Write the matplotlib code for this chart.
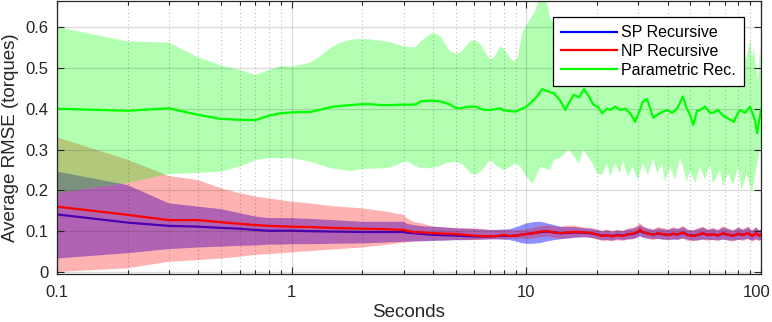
import numpy as np
import matplotlib
matplotlib.use("Agg")
import matplotlib.pyplot as plt
import matplotlib.transforms as mtransforms
from matplotlib.ticker import FixedLocator, LogLocator, NullFormatter

plt.rcParams['font.family'] = ['Liberation Sans', 'DejaVu Sans']

# ---------------- data ----------------
# common time grid for the two recursive methods (seconds)
t_rec = [0.1, 0.2, 0.3, 0.4, 0.5, 0.6, 0.7, 0.8, 0.9, 1.0, 1.2, 1.5, 2.0, 2.5, 3.0,
         3.1, 3.3, 3.6, 4.0, 4.5, 5.0, 5.5, 6.0, 6.5, 7.0, 7.5, 8.0, 8.5, 9.0, 9.5,
         10.0, 10.7, 11.5, 12.3, 13.1, 13.95, 15.0, 16.2, 17.6, 18.7, 20.0, 21.0, 22.1,
         23.3, 24.4, 25.8, 27.0, 28.4, 29.8, 30.5, 31.4, 33.0, 34.7, 36.4, 38.3, 40.2,
         42.2, 44.3, 46.5, 48.8, 51.4, 53.9, 56.6, 59.4, 62.4, 65.6, 68.9, 72.4, 76.1,
         79.9, 83.9, 88.1, 91.6, 95.3, 98.1, 100.0]

sp_mean = [0.141, 0.121, 0.113, 0.111, 0.108, 0.106, 0.103, 0.101, 0.101, 0.101, 0.100, 0.099,
           0.098, 0.098, 0.098, 0.096, 0.095, 0.093, 0.091, 0.090, 0.089, 0.088, 0.087, 0.087,
           0.087, 0.088, 0.089, 0.088, 0.089, 0.091,
           0.093, 0.095, 0.098, 0.099, 0.097, 0.095, 0.096, 0.097, 0.096, 0.095, 0.092, 0.089,
           0.090, 0.088, 0.091, 0.089, 0.092, 0.093, 0.097, 0.101, 0.097, 0.094, 0.092, 0.094,
           0.092, 0.091, 0.093, 0.092, 0.096, 0.091, 0.089, 0.091, 0.094, 0.091, 0.092, 0.090,
           0.094, 0.091, 0.089, 0.093, 0.091, 0.095, 0.089, 0.094, 0.090, 0.091]
sp_hi = [0.246, 0.213, 0.168, 0.160, 0.154, 0.144, 0.136, 0.132, 0.132, 0.132, 0.130, 0.127,
         0.123, 0.123, 0.123, 0.118, 0.115, 0.112, 0.111, 0.109, 0.107, 0.106, 0.105, 0.104,
         0.103, 0.103, 0.104, 0.105, 0.109, 0.114,
         0.119, 0.122, 0.123, 0.119, 0.115, 0.111, 0.110, 0.110, 0.107, 0.106, 0.103, 0.100,
         0.102, 0.099, 0.102, 0.100, 0.104, 0.106, 0.110, 0.115, 0.110, 0.106, 0.103, 0.107,
         0.105, 0.103, 0.107, 0.105, 0.110, 0.103, 0.101, 0.105, 0.109, 0.103, 0.106, 0.102,
         0.109, 0.105, 0.101, 0.108, 0.103, 0.109, 0.101, 0.108, 0.102, 0.104]
sp_lo = [0.033, 0.046, 0.056, 0.060, 0.062, 0.064, 0.065, 0.067, 0.067, 0.068, 0.068, 0.069,
         0.070, 0.072, 0.074, 0.074, 0.075, 0.075, 0.076, 0.077, 0.078, 0.078, 0.079, 0.079,
         0.080, 0.080, 0.079, 0.078, 0.075, 0.071,
         0.069, 0.069, 0.071, 0.075, 0.078, 0.080, 0.082, 0.084, 0.085, 0.084, 0.081, 0.078,
         0.078, 0.077, 0.080, 0.078, 0.080, 0.080, 0.084, 0.087, 0.084, 0.082, 0.081, 0.081,
         0.079, 0.079, 0.079, 0.079, 0.082, 0.079, 0.077, 0.077, 0.079, 0.079, 0.078, 0.078,
         0.079, 0.077, 0.077, 0.078, 0.079, 0.081, 0.077, 0.080, 0.078, 0.078]

np_mean = [0.160, 0.140, 0.127, 0.127, 0.122, 0.118, 0.115, 0.113, 0.112, 0.111, 0.110, 0.108,
           0.106, 0.105, 0.103, 0.101, 0.098, 0.097, 0.095, 0.094, 0.093, 0.091, 0.089, 0.088,
           0.087, 0.088, 0.091, 0.088, 0.089, 0.091,
           0.093, 0.095, 0.099, 0.100, 0.097, 0.095, 0.097, 0.098, 0.097, 0.096, 0.092, 0.088,
           0.090, 0.087, 0.090, 0.088, 0.092, 0.094, 0.098, 0.104, 0.098, 0.094, 0.091, 0.095,
           0.093, 0.090, 0.094, 0.092, 0.097, 0.090, 0.088, 0.092, 0.095, 0.090, 0.093, 0.089,
           0.095, 0.092, 0.088, 0.094, 0.090, 0.096, 0.088, 0.095, 0.089, 0.092]
np_hi = [0.330, 0.275, 0.235, 0.225, 0.205, 0.193, 0.185, 0.180, 0.176, 0.172, 0.168, 0.161,
         0.156, 0.148, 0.140, 0.132, 0.123, 0.119, 0.111, 0.109, 0.107, 0.107, 0.107, 0.105,
         0.103, 0.103, 0.103, 0.102, 0.102, 0.103,
         0.105, 0.108, 0.112, 0.114, 0.112, 0.110, 0.114, 0.113, 0.109, 0.108, 0.105, 0.101,
         0.104, 0.100, 0.103, 0.101, 0.106, 0.108, 0.114, 0.120, 0.113, 0.107, 0.104, 0.110,
         0.107, 0.104, 0.110, 0.106, 0.113, 0.104, 0.102, 0.107, 0.111, 0.104, 0.108, 0.103,
         0.112, 0.107, 0.102, 0.110, 0.104, 0.112, 0.102, 0.110, 0.103, 0.105]
np_lo = [0.000, 0.009, 0.025, 0.029, 0.033, 0.037, 0.042, 0.044, 0.046, 0.048, 0.051, 0.055,
         0.060, 0.066, 0.072, 0.073, 0.074, 0.076, 0.077, 0.077, 0.078, 0.078, 0.078, 0.079,
         0.080, 0.080, 0.080, 0.081, 0.081, 0.082,
         0.081, 0.082, 0.085, 0.087, 0.084, 0.081, 0.082, 0.084, 0.085, 0.084, 0.080, 0.076,
         0.077, 0.075, 0.078, 0.076, 0.079, 0.081, 0.084, 0.090, 0.084, 0.081, 0.078, 0.081,
         0.080, 0.077, 0.080, 0.079, 0.082, 0.076, 0.075, 0.078, 0.080, 0.076, 0.079, 0.075,
         0.080, 0.078, 0.074, 0.080, 0.076, 0.081, 0.074, 0.080, 0.075, 0.079]

# parametric recursive: mean line
t_par = [0.1, 0.2, 0.3, 0.4, 0.5, 0.6, 0.7, 0.8, 0.9, 1.0, 1.1, 1.2, 1.33, 1.47, 1.62, 1.78,
         1.97, 2.17, 2.39, 2.64, 2.91, 3.21, 3.4, 3.54, 3.91, 4.31, 4.75, 5.0, 5.24, 5.5, 5.78,
         6.1, 6.37, 6.7, 7.03, 7.4, 7.75, 8.0, 8.55, 9.0, 9.42,
         10.0, 10.7, 11.1, 11.7, 12.3, 13.1, 13.95, 14.66, 15.4, 15.9, 16.8, 17.6, 18.5, 19.3,
         20.2, 21.0, 22.1, 22.8, 23.9, 25.1, 26.4, 27.7, 29.1, 30.5, 31.4, 32.7, 34.7, 37.2,
         39.8, 41.8, 43.9, 46.5, 48.3, 49.9, 51.4, 53.4, 55.0, 57.8, 60.7, 62.4, 65.6, 68.3,
         72.4, 76.7, 79.0, 81.4, 85.5, 89.8, 92.5, 94.3, 96.3, 98.1, 100.0]
par_mean = [0.400, 0.395, 0.401, 0.385, 0.375, 0.373, 0.372, 0.383, 0.389, 0.391, 0.392, 0.392,
            0.398, 0.404, 0.407, 0.409, 0.411, 0.411, 0.409, 0.409, 0.410, 0.410, 0.411, 0.418,
            0.420, 0.418, 0.410, 0.402, 0.401, 0.404, 0.405, 0.405, 0.400, 0.397, 0.397, 0.399,
            0.401, 0.396, 0.394, 0.393, 0.398,
            0.405, 0.420, 0.430, 0.448, 0.443, 0.438, 0.420, 0.397, 0.420, 0.434, 0.428, 0.448,
            0.430, 0.410, 0.405, 0.389, 0.400, 0.397, 0.405, 0.397, 0.400, 0.389, 0.368, 0.397,
            0.418, 0.424, 0.378, 0.390, 0.397, 0.390, 0.400, 0.430, 0.400, 0.385, 0.360, 0.395,
            0.397, 0.405, 0.390, 0.390, 0.397, 0.385, 0.376, 0.368, 0.385, 0.397, 0.390, 0.405,
            0.385, 0.372, 0.340, 0.370, 0.397]

# parametric recursive: upper edge of the band
t_par_hi = [0.1, 0.2, 0.3, 0.4, 0.5, 0.6, 0.7, 0.8, 0.9, 1.0, 1.1, 1.2, 1.33, 1.47, 1.62, 1.78,
            1.97, 2.17, 2.39, 2.64, 2.91, 3.21, 3.4, 3.54, 3.75, 3.91, 4.1, 4.31, 4.55, 4.75,
            5.0, 5.24, 5.5, 5.78, 6.1, 6.37, 6.7, 7.03, 7.3, 7.75, 8.0, 8.3, 8.6, 8.9, 9.2, 9.6,
            10.0, 10.4, 10.9, 11.3, 11.7, 12.2, 12.6, 13.3, 15.0, 18.0, 22.0, 27.0, 33.0, 40.0,
            50.0, 60.0, 70.0, 80.0, 84.0, 86.0, 88.0, 89.8, 91.6, 93.0, 95.3, 97.0, 98.5, 99.3,
            100.0]
par_hi = [0.600, 0.565, 0.562, 0.526, 0.506, 0.495, 0.483, 0.495, 0.505, 0.503, 0.508, 0.513,
          0.530, 0.550, 0.562, 0.569, 0.571, 0.570, 0.567, 0.563, 0.555, 0.550, 0.552, 0.565,
          0.575, 0.583, 0.585, 0.577, 0.555, 0.540, 0.536, 0.537, 0.552, 0.566, 0.567, 0.558,
          0.538, 0.520, 0.527, 0.552, 0.548, 0.535, 0.522, 0.515, 0.527, 0.585,
          0.605, 0.620, 0.640, 0.665, 0.700, 0.670, 0.625, 0.600, 0.580, 0.600, 0.570, 0.590,
          0.580, 0.600, 0.580, 0.590, 0.570, 0.580, 0.560, 0.520, 0.540, 0.570, 0.520, 0.550,
          0.500, 0.470, 0.520, 0.550, 0.490]

# parametric recursive: lower edge of the band
t_par_lo = [0.1, 0.2, 0.3, 0.4, 0.5, 0.6, 0.7, 0.8, 0.9, 1.0, 1.2, 1.47, 1.78, 1.97, 2.39, 2.64,
            2.91, 3.1, 3.3, 3.54, 3.91, 4.31, 4.55, 5.0, 5.4, 5.78, 6.1, 6.5, 6.8, 7.03, 7.4,
            7.75, 8.0, 8.55, 9.0, 9.42, 10.0, 10.6, 11.5, 12.65, 13.1, 13.95, 15.2, 15.9, 16.8,
            17.4, 18.2, 19.2, 20.0, 21.0, 22.1, 22.8, 23.9, 25.1, 25.8, 27.0, 28.4, 29.8, 31.4,
            33.0, 34.7, 36.1, 37.9, 39.0, 41.0, 43.1, 45.2, 46.5, 48.3, 49.9, 52.4, 55.0, 57.8,
            60.7, 62.4, 66.9, 68.9, 72.4, 76.1, 79.9, 82.8, 86.7, 91.6, 94.3, 97.4, 100.0]
par_lo = [0.193, 0.218, 0.240, 0.243, 0.246, 0.258, 0.274, 0.279, 0.279, 0.279, 0.270, 0.254,
          0.247, 0.252, 0.254, 0.256, 0.266, 0.272, 0.262, 0.255, 0.254, 0.260, 0.267, 0.270,
          0.262, 0.242, 0.238, 0.250, 0.265, 0.274, 0.262, 0.255, 0.250, 0.258, 0.266, 0.258,
          0.234, 0.215, 0.258, 0.250, 0.274, 0.280, 0.300, 0.285, 0.265, 0.300, 0.285, 0.265,
          0.242, 0.238, 0.266, 0.234, 0.266, 0.242, 0.274, 0.234, 0.258, 0.226, 0.266, 0.238,
          0.278, 0.242, 0.266, 0.221, 0.258, 0.226, 0.282, 0.258, 0.221, 0.250, 0.217, 0.258,
          0.226, 0.266, 0.217, 0.250, 0.209, 0.242, 0.213, 0.258, 0.200, 0.242, 0.196, 0.234,
          0.282, 0.307]

labels = ['SP Recursive', 'NP Recursive', 'Parametric Rec.']
x_ticks = [0.1, 1, 10, 100]
x_ticklabels = ['0.1', '1', '10', '100']
y_ticks = [0, 0.1, 0.2, 0.3, 0.4, 0.5, 0.6]
y_ticklabels = ['0', '0.1', '0.2', '0.3', '0.4', '0.5', '0.6']

# ---------------- plot ----------------
fig = plt.figure(figsize=(7.72, 3.22), dpi=100)
ax = fig.add_axes([57 / 772, 1 - 274 / 322, 704 / 772, 273 / 322])

lw = 1.6
ax.fill_between(t_rec, sp_lo, sp_hi, facecolor=(0, 0, 1), alpha=0.44, linewidth=0, zorder=1.0)
l_sp, = ax.plot(t_rec, sp_mean, color=(0, 0, 1), lw=lw, zorder=1.1, label=labels[0])
ax.fill_between(t_rec, np_lo, np_hi, facecolor=(1, 0, 0), alpha=0.3, linewidth=0, zorder=1.2)
poly_x = np.concatenate([t_par_hi, t_par_lo[::-1]])
poly_y = np.concatenate([par_hi, par_lo[::-1]])
ax.fill(poly_x, poly_y, facecolor=(0, 1, 0), alpha=0.3, linewidth=0, zorder=1.4)
l_np, = ax.plot(t_rec, np_mean, color=(1, 0, 0), lw=lw, zorder=3.0, label=labels[1])
l_par, = ax.plot(t_par, par_mean, color=(0, 1, 0), lw=lw, zorder=3.1, label=labels[2])

ax.set_xscale('log')
ax.set_xlim(0.1, 100)
ax.set_ylim(-0.005, 0.664)
ax.xaxis.set_major_locator(FixedLocator(x_ticks))
ax.set_xticklabels(x_ticklabels)
ax.xaxis.set_minor_locator(LogLocator(base=10, subs=np.arange(2, 10), numticks=20))
ax.xaxis.set_minor_formatter(NullFormatter())
ax.set_yticks(y_ticks)
ax.set_yticklabels(y_ticklabels)

# grid drawn above the shaded bands (axis zorder 2.5), as in the reference
ax.set_axisbelow(False)
ax.grid(True, which='major', axis='both', color=(0.15, 0.15, 0.15), alpha=0.16, linewidth=0.9)
ax.grid(True, which='minor', axis='x', color=(0.15, 0.15, 0.15), alpha=0.3,
        linestyle=(0, (1, 2.5)), linewidth=0.8)

ax.tick_params(which='both', direction='in', top=True, right=True, colors=(0.15, 0.15, 0.15),
               labelcolor=(0.15, 0.15, 0.15), labelsize=12, width=0.8)
ax.tick_params(which='major', length=5)
ax.tick_params(which='minor', length=3)
ax.tick_params(axis='x', which='major', pad=8)
ax.tick_params(axis='y', which='major', pad=6)
for s in ax.spines.values():
    s.set_color((0.15, 0.15, 0.15))
    s.set_linewidth(0.9)
    s.set_zorder(4)

# nudge the last x tick label left so it stays inside the figure, as in the reference
shift = mtransforms.ScaledTranslation(-4 / 100, 0, fig.dpi_scale_trans)
xlabels_objs = ax.get_xticklabels()
xlabels_objs[-1].set_transform(xlabels_objs[-1].get_transform() + shift)

ax.set_xlabel('Seconds', fontsize=13.5, color=(0.15, 0.15, 0.15), labelpad=3)
ax.set_ylabel('Average RMSE (torques)', fontsize=13.5, color=(0.15, 0.15, 0.15), labelpad=5)

leg = ax.legend(handles=[l_sp, l_np, l_par], loc='upper right', bbox_to_anchor=(0.976, 0.941),
                borderaxespad=0, fontsize=11.5, fancybox=False, framealpha=1,
                edgecolor='black', handlelength=3.5, handletextpad=0.3, labelspacing=0.25,
                borderpad=0.5)
leg.get_frame().set_linewidth(0.9)
leg.set_zorder(10)

fig.savefig('out.png', dpi=100)
